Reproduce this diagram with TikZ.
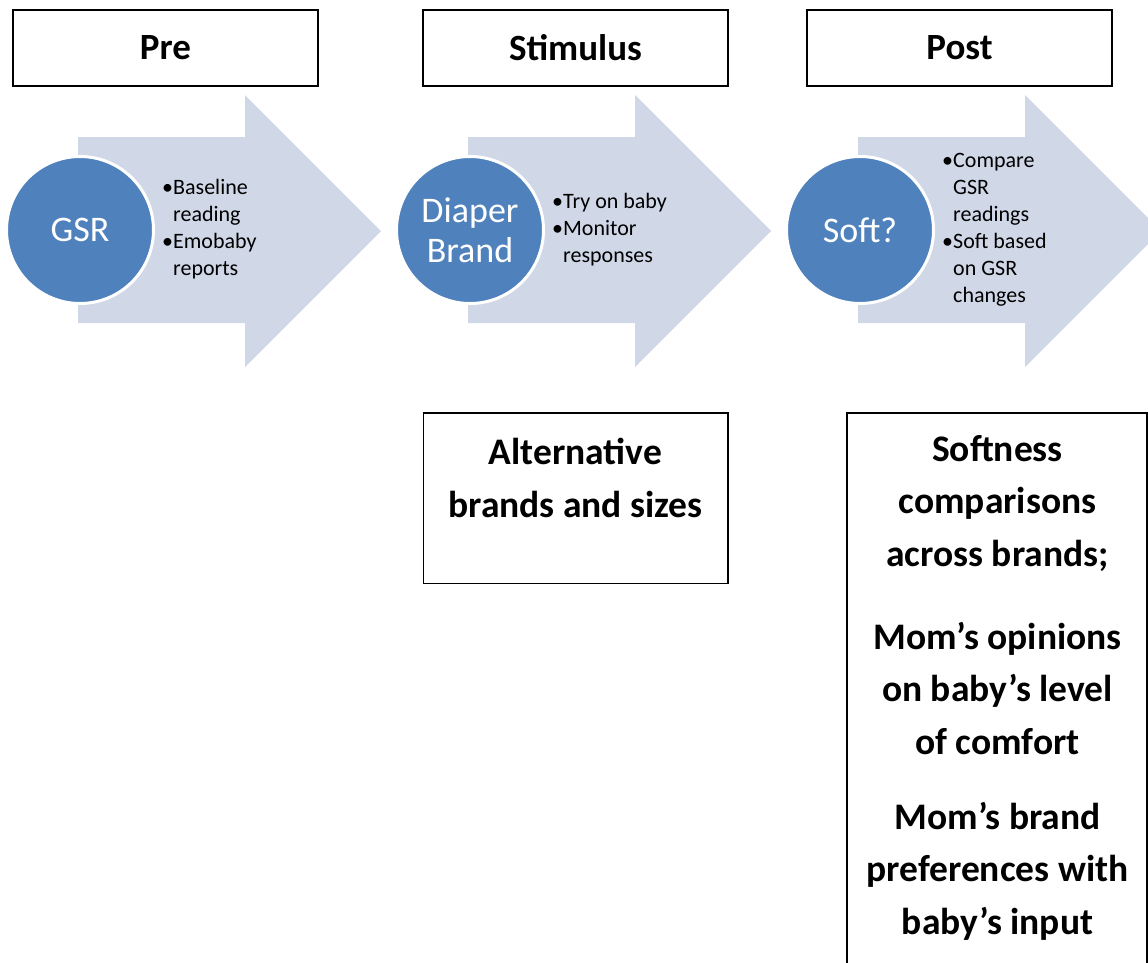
\documentclass[tikz,border=0pt]{standalone}
\usepackage{fontspec}
\setmainfont{Carlito}
\definecolor{arrowfill}{HTML}{D0D8E8}
\definecolor{circfill}{HTML}{4F81BD}
\newcommand{\bul}{\makebox[11pt][l]{•}}
\newcommand{\ind}{\hspace*{11pt}}
\begin{document}
\begin{tikzpicture}[x=1pt,y=-1pt,
  hdr/.style={draw=black,line width=1.6pt,minimum width=305pt,minimum height=76pt,inner sep=0pt,font=\fontsize{37}{44}\selectfont\bfseries},
  arrowshape/.style={fill=arrowfill,draw=none},
  circ/.style={circle,fill=circfill,draw=white,line width=3pt,minimum size=147pt,inner sep=0pt,text=white,align=center,font=\fontsize{36}{40}\selectfont},
  bullets/.style={anchor=west,align=left,inner sep=0pt,font=\fontsize{22}{27}\selectfont},
  bigbox/.style={draw=black,line width=1.6pt},
  bigtext/.style={align=center,inner sep=0pt,font=\fontsize{37.5}{52.5}\selectfont\bfseries}]
\useasboundingbox (0,0) rectangle (1148,962);
% headers
\node[hdr] (pre) at (165.5,48) {Pre};
\node[hdr] (stim) at (575.5,48) {Stimulus};
\node[hdr] (post) at (959.5,48) {Post};
% arrows
\foreach \dx/\nm in {0/a1,390/a2,780/a3}{
  \begin{scope}[xshift=\dx pt]
  \fill[arrowshape] (78,137) -- (245,137) -- (245,95) -- (381,231) -- (245,367) -- (245,323) -- (78,323) -- cycle;
  \end{scope}
}
% circles
\node[circ] (c1) at (80,230) {GSR};
\node[circ] (c2) at (470,230) {Diaper\\Brand};
\node[circ] (c3) at (860,230) {Soft?};
% bullet texts
\node[bullets] (t1) at (162,229) {\bul Baseline\\\ind reading\\\bul Emobaby\\\ind reports};
\node[bullets] (t2) at (552,230) {\bul Try on baby\\\bul Monitor\\\ind responses};
\node[bullets] (t3) at (942,230) {\bul Compare\\\ind GSR\\\ind readings\\\bul Soft based\\\ind on GSR\\\ind changes};
% lower boxes
\draw[bigbox] (423.5,413) rectangle (728,583.5);
\node[bigtext] (alt) at (575.5,478) {Alternative\\brands and sizes};
\draw[bigbox] (847,413) rectangle (1147,990);
\node[bigtext] (soft) at (997.5,503) {Softness\\comparisons\\across brands;};
\node[bigtext] (mom1) at (997.5,688) {Mom’s opinions\\on baby’s level\\of comfort};
\node[bigtext] (mom2) at (997.5,871) {Mom’s brand\\preferences with\\baby’s input};
\end{tikzpicture}
\end{document}
